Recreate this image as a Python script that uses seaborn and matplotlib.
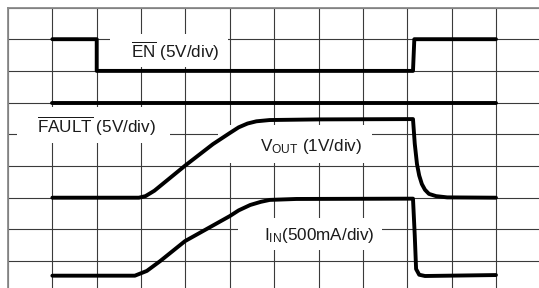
import numpy as np
import pandas as pd
import seaborn as sns
from matplotlib import pyplot as plt
from matplotlib.patches import Rectangle

# scope traces, in divisions (x: time div, y: vertical div from bottom)
en_t = [1.0, 2.0, 2.0, 9.13, 9.16, 11.0]
en_v = [8.0, 8.0, 7.0, 7.0, 8.0, 8.0]

fault_t = [1.0, 11.0]
fault_v = [6.0, 6.0]

vout_t = [1.0, 2.95, 3.1, 3.3, 4.0, 4.62, 5.0, 5.2, 5.4, 5.6, 5.9, 7.0, 9.13,
          9.17, 9.22, 9.27, 9.33, 9.4, 9.49, 9.65, 9.9, 11.0]
vout_v = [3.0, 3.0, 3.05, 3.22, 4.02, 4.69, 5.04, 5.22, 5.34, 5.41, 5.45, 5.47, 5.48,
          4.7, 4.06, 3.7, 3.43, 3.25, 3.12, 3.05, 3.01, 3.0]

iin_t = [1.0, 2.86, 3.13, 3.43, 3.99, 5.0, 5.2, 5.46, 5.7, 5.9, 6.5, 9.13,
         9.17, 9.2, 9.27, 9.4, 11.0]
iin_v = [0.54, 0.54, 0.69, 1.0, 1.63, 2.42, 2.6, 2.77, 2.87, 2.93, 2.96, 2.97,
         1.8, 0.75, 0.57, 0.53, 0.56]

labels = [r"$\overline{\mathrm{EN}}$ (5V/div)",
          r"$\overline{\mathrm{FAULT}}$ (5V/div)",
          r"V$_{\mathrm{OUT}}$ (1V/div)",
          r"I$_{\mathrm{IN}}$(500mA/div)"]
label_xy = [(3.76, 7.63), (2.0, 5.26), (6.84, 4.63), (7.02, 1.82)]
# white boxes behind labels: (x0, y0, w, h)
label_box = [(2.3, 7.12, 2.66, 1.04), (0.2, 4.73, 3.45, 1.13),
             (4.73, 4.09, 3.47, 1.2), (5.18, 1.35, 3.25, 1.01)]

traces = pd.concat([
    pd.DataFrame({"t": en_t, "v": en_v, "trace": "EN"}),
    pd.DataFrame({"t": fault_t, "v": fault_v, "trace": "FAULT"}),
    pd.DataFrame({"t": vout_t, "v": vout_v, "trace": "VOUT"}),
    pd.DataFrame({"t": iin_t, "v": iin_v, "trace": "IIN"}),
])

sns.set_style("white")
plt.rcParams["font.family"] = ["Liberation Sans", "DejaVu Sans"]
plt.rcParams["mathtext.fontset"] = "custom"
plt.rcParams["mathtext.rm"] = "Liberation Sans"
plt.rcParams["mathtext.it"] = "Liberation Sans:italic"

fig = plt.figure(figsize=(5.39, 2.88), dpi=100)
ax = fig.add_axes([8 / 539, 1 - 7.5 / 288 - 285.3 / 288, 532.3 / 539, 285.3 / 288])

ax.set_xlim(0, 12)
ax.set_ylim(0, 9)
ax.set_xticks(range(13))
ax.set_yticks(range(10))
ax.tick_params(length=0, labelbottom=False, labelleft=False)
ax.grid(True, color="#3a3a3a", linewidth=0.8)
ax.set_axisbelow(True)
for side in ["top", "left"]:
    ax.spines[side].set_color("#8a8a8a")
    ax.spines[side].set_linewidth(1.3)
for side in ["right", "bottom"]:
    ax.spines[side].set_visible(False)

for x0, y0, w, h in label_box:
    ax.add_patch(Rectangle((x0, y0), w, h, facecolor="white", edgecolor="none", zorder=1.5))

sns.lineplot(data=traces, x="t", y="v", units="trace", estimator=None, sort=False,
             color="black", linewidth=2.8, ax=ax, zorder=3)
ax.set_xlabel("")
ax.set_ylabel("")

for txt, (x, y) in zip(labels, label_xy):
    ax.text(x, y, txt, ha="center", va="center", fontsize=12.3, color="#1a1a1a", zorder=4)

fig.savefig("out.png", dpi=100)
